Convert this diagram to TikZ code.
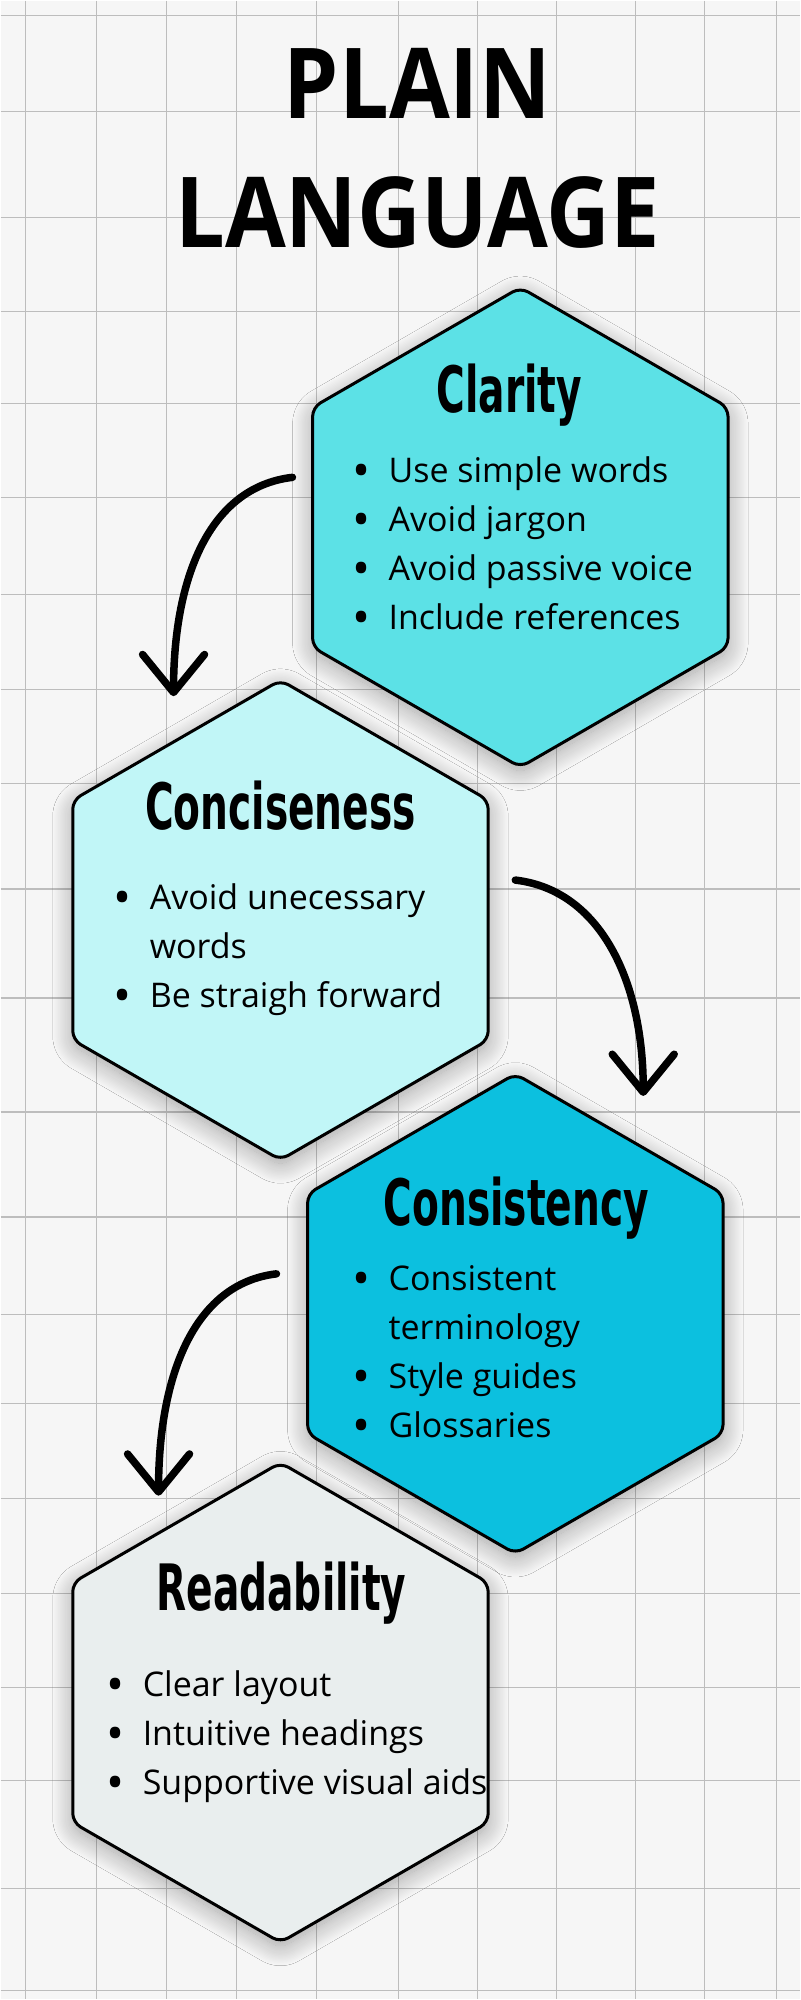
\documentclass[tikz,border=0pt]{standalone}
\usepackage{fontspec}
\setmainfont{Open Sans}
\newfontfamily\headfont{DejaVu Sans Condensed}
\usetikzlibrary{shapes.geometric,arrows.meta,shadows.blur}

\definecolor{clarityCol}{HTML}{5CE1E6}
\definecolor{concisenessCol}{HTML}{C1F6F7}
\definecolor{consistencyCol}{HTML}{0CC0DF}
\definecolor{readabilityCol}{HTML}{E9EEEE}
\definecolor{paperCol}{HTML}{F6F6F6}
\definecolor{gridCol}{HTML}{BDBDBD}

\tikzset{
  hexagon/.style={regular polygon, regular polygon sides=6, shape border rotate=30,
    minimum size=480pt, inner sep=0pt, draw=black, line width=3pt, rounded corners=9pt,
    blur shadow={shadow xshift=0pt, shadow yshift=-6pt, shadow blur radius=20pt,
      shadow blur steps=30, shadow opacity=35}},
  heading/.style={anchor=base, inner sep=0pt, font=\headfont\bfseries\fontsize{64}{64}\selectfont},
  bullets/.style={anchor=base west, inner sep=0pt, font=\fontsize{34}{49}\selectfont},
  curvearrow/.style={line width=7.5pt, line cap=round, -{Straight Barb[length=38pt,width=62pt,round]}},
}
\newcommand{\dotitem}{\makebox[34pt][l]{\makebox[14pt][c]{\fontsize{48}{48}\selectfont\raisebox{-5pt}{•}}}}
\newcommand{\squeeze}[1]{\scalebox{0.68}[1]{#1}}

\begin{document}
\begin{tikzpicture}[x=1pt, y=-1pt]
  % paper
  \fill[paperCol] (0,0) rectangle (800,2000);
  \foreach \x in {25,96,166,236,316,398,477,556,635,704,776}
    \draw[gridCol, line width=1.3pt] (\x,0) -- (\x,2000);
  \foreach \y in {15,111,217,311,403,497,594,689,783,889,998,1112,1217,1315,1404,1499,1594,1688,1781,1889,1991}
    \draw[gridCol, line width=1.3pt] (0,\y) -- (800,\y);

  % title
  \node[anchor=base, inner sep=0pt, font=\bfseries\fontsize{98}{129}\selectfont] (title) at (417,118)
    {\scalebox{0.9}[1]{\begin{tabular}[t]{@{}c@{}}PLAIN\\LANGUAGE\end{tabular}}};

  % hexagons
  \node[hexagon, fill=clarityCol] (clarity) at (520,527) {};
  \node[hexagon, fill=concisenessCol] (conciseness) at (280,920) {};
  \node[hexagon, fill=consistencyCol] (consistency) at (515,1314) {};
  \node[hexagon, fill=readabilityCol] (readability) at (280,1703) {};

  % headings
  \node[heading] (clarityHead) at (509,412) {\squeeze{Clarity}};
  \node[heading] (concisenessHead) at (280,829) {\squeeze{Conciseness}};
  \node[heading] (consistencyHead) at (516,1226) {\squeeze{Consistency}};
  \node[heading] (readabilityHead) at (281,1611) {\squeeze{Readability}};

  % lists
  \node[bullets] (clarityList) at (354,482) {\begin{tabular}[t]{@{}l@{}l@{}}
    \dotitem & Use simple words\\
    \dotitem & Avoid jargon\\
    \dotitem & Avoid passive voice\\
    \dotitem & Include references
  \end{tabular}};
  \node[bullets] (concisenessList) at (115,909) {\begin{tabular}[t]{@{}l@{}l@{}}
    \dotitem & Avoid unecessary\\
     & words\\
    \dotitem & Be straigh forward
  \end{tabular}};
  \node[bullets] (consistencyList) at (354,1291) {\begin{tabular}[t]{@{}l@{}l@{}}
    \dotitem & Consistent\\
     & terminology\\
    \dotitem & Style guides\\
    \dotitem & Glossaries
  \end{tabular}};
  \node[bullets] (readabilityList) at (108,1697) {\begin{tabular}[t]{@{}l@{}l@{}}
    \dotitem & Clear layout\\
    \dotitem & Intuitive headings\\
    \dotitem & Supportive visual aids
  \end{tabular}};

  % arrows
  \coordinate (clarityOut) at (292,477);
  \coordinate (concisenessIn) at (173,696);
  \coordinate (concisenessOut) at (515,880);
  \coordinate (consistencyIn) at (643,1096);
  \coordinate (consistencyOut) at (276,1274);
  \coordinate (readabilityIn) at (158,1496);
  \draw[curvearrow] (clarityOut) .. controls +(-85,10) and +(0,-115) .. (concisenessIn);
  \draw[curvearrow] (concisenessOut) .. controls +(85,10) and +(0,-115) .. (consistencyIn);
  \draw[curvearrow] (consistencyOut) .. controls +(-85,10) and +(0,-115) .. (readabilityIn);
\end{tikzpicture}
\end{document}
